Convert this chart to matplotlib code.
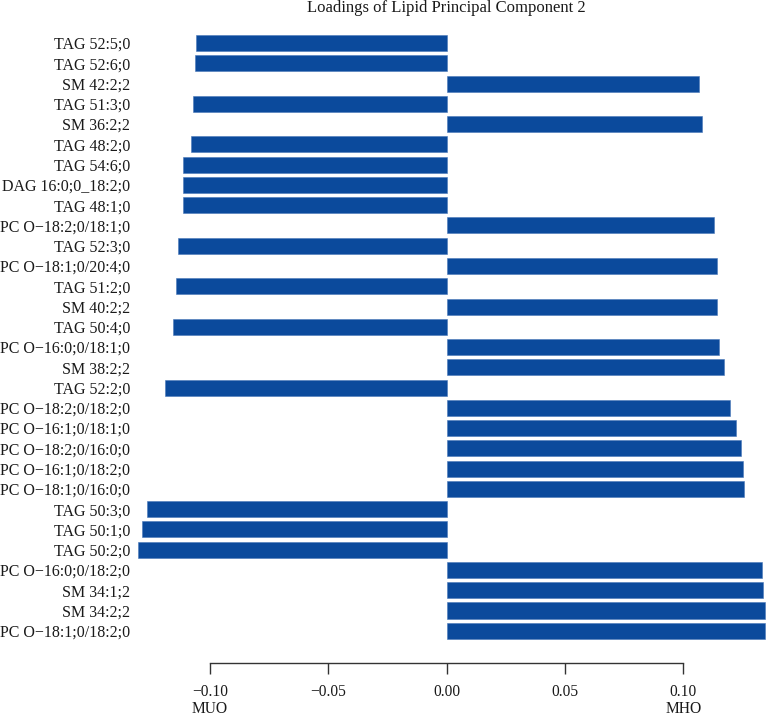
import matplotlib
matplotlib.use("Agg")
import matplotlib.pyplot as plt
import matplotlib.transforms as mtransforms
import numpy as np

plt.rcParams['font.family'] = ['Liberation Serif', 'DejaVu Serif']

# categories listed top to bottom
lipids = [
    "TAG 52:5;0", "TAG 52:6;0", "SM 42:2;2", "TAG 51:3;0", "SM 36:2;2",
    "TAG 48:2;0", "TAG 54:6;0", "DAG 16:0;0_18:2;0", "TAG 48:1;0",
    "PC O\u221218:2;0/18:1;0", "TAG 52:3;0", "PC O\u221218:1;0/20:4;0",
    "TAG 51:2;0", "SM 40:2;2", "TAG 50:4;0", "PC O\u221216:0;0/18:1;0",
    "SM 38:2;2", "TAG 52:2;0", "PC O\u221218:2;0/18:2;0",
    "PC O\u221216:1;0/18:1;0", "PC O\u221218:2;0/16:0;0",
    "PC O\u221216:1;0/18:2;0", "PC O\u221218:1;0/16:0;0",
    "TAG 50:3;0", "TAG 50:1;0", "TAG 50:2;0", "PC O\u221216:0;0/18:2;0",
    "SM 34:1;2", "SM 34:2;2", "PC O\u221218:1;0/18:2;0",
]
loadings = [
    -0.1060, -0.1064, 0.1067, -0.1070, 0.1078,
    -0.1080, -0.1112, -0.1112, -0.1112,
    0.1129, -0.1135, 0.1140,
    -0.1144, 0.1144, -0.1155, 0.1151,
    0.1171, -0.1188, 0.1198,
    0.1224, 0.1243,
    0.1253, 0.1258,
    -0.1264, -0.1287, -0.1302, 0.1331,
    0.1337, 0.1345, 0.1346,
]
xticks = [-0.10, -0.05, 0.00, 0.05, 0.10]
xtick_labels = ["\u22120.10", "\u22120.05", "0.00", "0.05", "0.10"]
group_labels = ["MUO", "MHO"]
group_pos = [-0.10, 0.10]

W, H = 766, 720
fig = plt.figure(figsize=(W / 100, H / 100), dpi=100)
left_px, right_px, top_px, bottom_px = 138.3, 766, 30, 662.7
ax = fig.add_axes([left_px / W, 1 - bottom_px / H,
                   (right_px - left_px) / W, (bottom_px - top_px) / H])

n = len(lipids)
ypos = np.arange(n)[::-1]
ax.barh(ypos, loadings, height=0.79, color="#0b4a9c", edgecolor="#4a78b8",
        linewidth=0.4)

ax.set_xlim(-0.1302, 0.1349)
ax.set_ylim(-1.576, n - 1 + 0.645)
ax.set_yticks(ypos)
ax.set_yticklabels(lipids, fontsize=11.5, color='#1a1a1a')
ax.tick_params(axis='y', length=0, pad=6)
ax.set_xticks(xticks)
ax.set_xticklabels(xtick_labels, fontsize=11.2, color='#1a1a1a')
ax.tick_params(axis='x', direction='out', length=8, width=1, pad=7, color='#333333')

for s in ['top', 'right', 'left']:
    ax.spines[s].set_visible(False)
ax.spines['bottom'].set_bounds(-0.10, 0.10)
ax.spines['bottom'].set_linewidth(1)
ax.spines['bottom'].set_color('#333333')

trans = mtransforms.blended_transform_factory(ax.transData, fig.transFigure)
for lab, xp in zip(group_labels, group_pos):
    fig.text(xp, 1 - 701 / H, lab, transform=trans, ha='center', va='top',
             fontsize=11.2, color='#1a1a1a')

fig.text(0.0, 1 - 12 / H, "Loadings of Lipid Principal Component 2",
         transform=trans, ha='center', va='baseline', fontsize=12,
         color='#1a1a1a')

fig.savefig("out.png", dpi=100)
